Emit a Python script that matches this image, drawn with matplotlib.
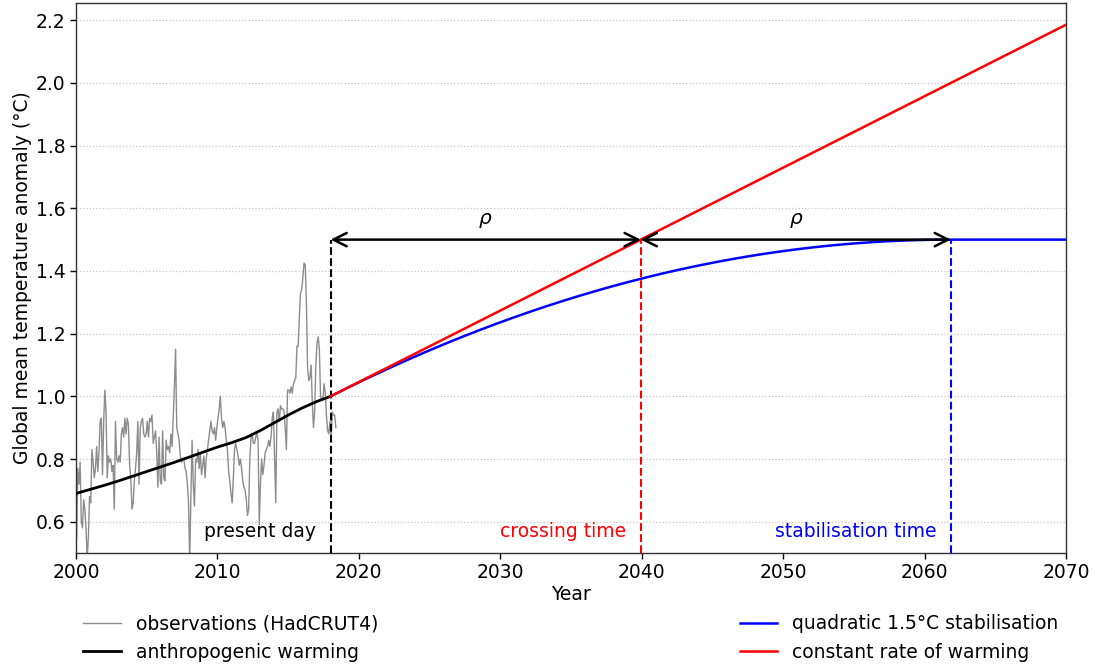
import numpy as np
import matplotlib
matplotlib.use("Agg")
import matplotlib.pyplot as plt

# Monthly observed global mean temperature anomaly (HadCRUT4), Jan 2000 - May 2018
obs_2000 = [0.55, 0.77, 0.72, 0.79, 0.60, 0.58, 0.67, 0.64, 0.58, 0.48, 0.55, 0.68]
obs_2001 = [0.66, 0.83, 0.79, 0.74, 0.77, 0.84, 0.76, 0.82, 0.92, 0.93, 0.75, 0.92]
obs_2002 = [1.02, 0.95, 0.74, 0.81, 0.79, 0.80, 0.76, 0.78, 0.64, 0.92, 0.80, 0.79]
obs_2003 = [0.81, 0.79, 0.88, 0.90, 0.87, 0.93, 0.88, 0.93, 0.91, 0.78, 0.74, 0.64]
obs_2004 = [0.66, 0.73, 0.77, 0.82, 0.92, 0.72, 0.90, 0.92, 0.93, 0.88, 0.87, 0.88]
obs_2005 = [0.92, 0.87, 0.93, 0.92, 0.94, 0.85, 0.87, 0.89, 0.82, 0.71, 0.87, 0.73]
obs_2006 = [0.72, 0.89, 0.74, 0.73, 0.86, 0.83, 0.84, 0.82, 0.88, 0.84, 0.93, 1.03]
obs_2007 = [1.15, 0.90, 0.88, 0.86, 0.81, 0.79, 0.80, 0.80, 0.77, 0.76, 0.72, 0.66]
obs_2008 = [0.47, 0.68, 0.86, 0.72, 0.65, 0.80, 0.79, 0.83, 0.77, 0.82, 0.75, 0.78]
obs_2009 = [0.81, 0.74, 0.80, 0.83, 0.86, 0.89, 0.92, 0.89, 0.88, 0.90, 0.86, 0.90]
obs_2010 = [0.93, 0.96, 1.00, 0.93, 0.90, 0.92, 0.90, 0.86, 0.83, 0.76, 0.73, 0.69]
obs_2011 = [0.66, 0.74, 0.83, 0.85, 0.83, 0.81, 0.78, 0.80, 0.77, 0.73, 0.71, 0.70]
obs_2012 = [0.67, 0.62, 0.64, 0.80, 0.87, 0.88, 0.85, 0.85, 0.87, 0.88, 0.86, 0.59]
obs_2013 = [0.72, 0.80, 0.75, 0.78, 0.82, 0.83, 0.84, 0.86, 0.84, 0.87, 0.93, 0.95]
obs_2014 = [0.80, 0.66, 0.95, 0.96, 0.92, 0.97, 0.96, 0.96, 0.95, 0.90, 0.83, 1.02]
obs_2015 = [1.02, 1.01, 1.03, 1.01, 1.04, 1.05, 1.06, 1.16, 1.16, 1.25, 1.33, 1.34]
obs_2016 = [1.38, 1.425, 1.42, 1.30, 1.09, 1.05, 1.06, 1.10, 0.98, 0.90, 0.95, 1.10]
obs_2017 = [1.17, 1.19, 1.15, 1.00, 0.99, 0.99, 1.04, 1.01, 0.94, 0.89, 0.88, 0.92]
obs_2018 = [0.87, 0.95, 0.94, 0.94, 0.90]

obs_values = (obs_2000 + obs_2001 + obs_2002 + obs_2003 + obs_2004 + obs_2005
              + obs_2006 + obs_2007 + obs_2008 + obs_2009 + obs_2010 + obs_2011
              + obs_2012 + obs_2013 + obs_2014 + obs_2015 + obs_2016 + obs_2017
              + obs_2018)
obs_time = 2000 + (np.arange(len(obs_values)) + 0.5) / 12.0

# Attributable anthropogenic warming, annual
aw_years = list(range(2000, 2019))
aw_values = [0.690, 0.703, 0.716, 0.730, 0.745, 0.760, 0.775, 0.790, 0.806,
             0.822, 0.838, 0.852, 0.868, 0.890, 0.915, 0.940, 0.963, 0.983, 1.000]

# Scenario parameters
present_year = 2018.0
present_warming = 1.0
warming_rate = 0.0228          # degC per year
target = 1.5
end_year = 2070

rho = (target - present_warming) / warming_rate
crossing_year = present_year + rho
stab_year = present_year + 2 * rho

# Constant rate of warming
lin_t = np.array([present_year, end_year])
lin_T = present_warming + warming_rate * (lin_t - present_year)

# Quadratic approach to 1.5 degC, flat afterwards
quad_t = np.linspace(present_year, end_year, 400)
frac = np.clip((quad_t - present_year) / (2 * rho), 0, 1)
quad_T = target - (target - present_warming) * (1 - frac) ** 2

FS = 13.5
plt.rcParams['font.family'] = ['DejaVu Sans']
plt.rcParams['mathtext.fontset'] = 'dejavusans'

fig = plt.figure(figsize=(10.95, 6.7), dpi=100)
ax = fig.add_axes([0.0694, 0.1746, 0.9041, 0.8209])

l_obs, = ax.plot(obs_time, obs_values, color='#8c8c8c', lw=1.0,
                 label='observations (HadCRUT4)', zorder=2)
l_aw, = ax.plot(aw_years, aw_values, color='black', lw=2.0,
                label='anthropogenic warming', zorder=3)
l_quad, = ax.plot(quad_t, quad_T, color='blue', lw=1.8,
                  label='quadratic 1.5°C stabilisation', zorder=3)
l_lin, = ax.plot(lin_t, lin_T, color='red', lw=1.8,
                 label='constant rate of warming', zorder=4)

ymin = 0.5
ax.plot([present_year, present_year], [ymin, target], color='black',
        ls='--', lw=1.5, zorder=3)
ax.plot([crossing_year, crossing_year], [ymin, target], color='red',
        ls='--', lw=1.5, zorder=3)
ax.plot([stab_year, stab_year], [ymin, target], color='blue',
        ls='--', lw=1.5, zorder=3)

arrow_kw = dict(arrowstyle='<->', color='black', lw=1.8,
                shrinkA=0, shrinkB=0, mutation_scale=24)
ax.annotate('', xy=(crossing_year, target), xytext=(present_year, target),
            arrowprops=arrow_kw, zorder=5)
ax.annotate('', xy=(stab_year, target), xytext=(crossing_year, target),
            arrowprops=arrow_kw, zorder=5)
ax.text((present_year + crossing_year) / 2, 1.562, r'$\rho$', fontsize=FS + 1,
        ha='center', va='center')
ax.text((crossing_year + stab_year) / 2, 1.562, r'$\rho$', fontsize=FS + 1,
        ha='center', va='center')

ax.text(present_year - 1.0, 0.568, 'present day', color='black',
        fontsize=FS, ha='right', va='center')
ax.text(crossing_year - 1.0, 0.568, 'crossing time', color='red',
        fontsize=FS, ha='right', va='center')
ax.text(stab_year - 1.0, 0.568, 'stabilisation time', color='blue',
        fontsize=FS, ha='right', va='center')

ax.set_xlim(2000, 2070)
ax.set_ylim(ymin, 2.255)
ax.set_xticks(np.arange(2000, 2071, 10))
ax.set_yticks(np.round(np.arange(0.6, 2.21, 0.2), 1))
ax.yaxis.grid(True, ls=':', color='#c8c8c8', lw=0.9)
ax.set_axisbelow(True)
ax.tick_params(labelsize=FS, length=4, width=1)
for sp in ax.spines.values():
    sp.set_linewidth(1.0)
    sp.set_color('#333333')

ax.set_xlabel('Year', fontsize=FS, labelpad=1.5)
ax.set_ylabel('Global mean temperature anomaly (°C)', fontsize=FS, labelpad=3)

leg_kw = dict(frameon=False, fontsize=FS, handlelength=2.0,
              labelspacing=0.5, borderaxespad=0.0, borderpad=0.4)
leg1 = ax.legend(handles=[l_obs, l_aw], loc='upper left',
                 bbox_to_anchor=(0.0, -0.098), **leg_kw)
ax.add_artist(leg1)
ax.legend(handles=[l_quad, l_lin], loc='upper right',
          bbox_to_anchor=(1.0, -0.098), **leg_kw)

fig.savefig('out.png', dpi=100)
